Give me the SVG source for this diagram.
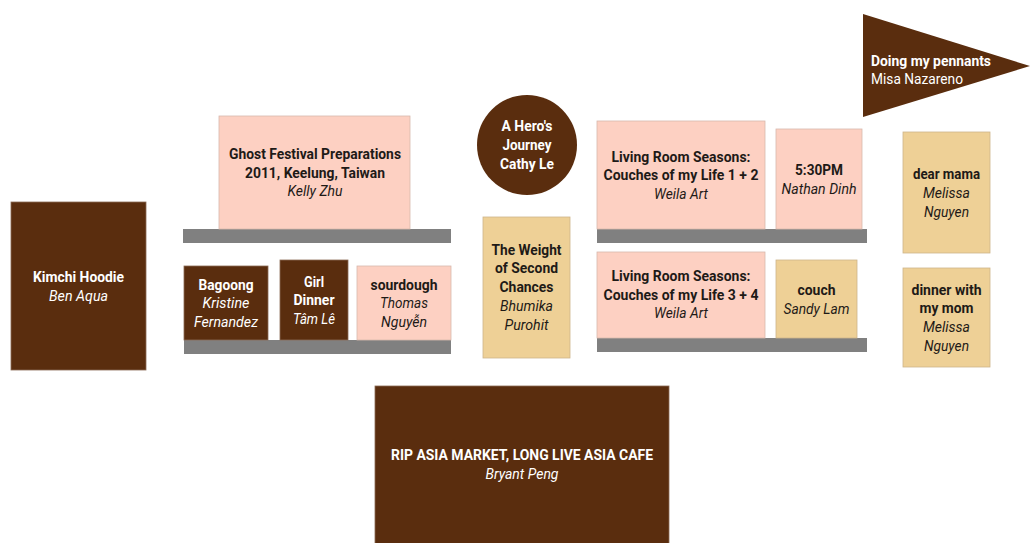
<svg xmlns="http://www.w3.org/2000/svg" width="1035" height="543" viewBox="0 0 1035 543">
<style>
  text { font-family: Roboto, "Liberation Sans", sans-serif; font-size: 15px; text-anchor: middle; }
  .b { font-weight: bold; }
  .i { font-style: italic; }
  .w { fill: #ffffff; }
  .d { fill: #1e1a17; }
  .brown { fill: #5a2d0e; stroke: #8a6a55; stroke-width: 0.8; }
  .pink { fill: #fdd0c2; stroke: #d8b8ad; stroke-width: 0.8; }
  .tan { fill: #eed096; stroke: #cdb48a; stroke-width: 0.8; }
  .shelf { fill: #808080; }
</style>
<rect width="1035" height="543" fill="#ffffff"/>

<g id="kimchi-hoodie">
  <rect class="brown" x="11" y="202" width="135" height="168"/>
  <text class="b w" x="78.5" y="282" textLength="91" lengthAdjust="spacingAndGlyphs">Kimchi Hoodie</text>
  <text class="i w" x="78.5" y="301" textLength="59" lengthAdjust="spacingAndGlyphs">Ben Aqua</text>
</g>

<g id="shelves">
  <rect class="shelf" x="183" y="229" width="268" height="14"/>
  <rect class="shelf" x="184" y="340" width="267" height="14"/>
  <rect class="shelf" x="597" y="229" width="270" height="14"/>
  <rect class="shelf" x="597" y="338" width="270" height="14"/>
</g>

<g id="ghost-festival">
  <rect class="pink" x="219" y="116" width="191" height="113"/>
  <text class="b d" x="315" y="159" textLength="172" lengthAdjust="spacingAndGlyphs">Ghost Festival Preparations</text>
  <text class="b d" x="315" y="178" textLength="140" lengthAdjust="spacingAndGlyphs">2011, Keelung, Taiwan</text>
  <text class="i d" x="315" y="196" textLength="55" lengthAdjust="spacingAndGlyphs">Kelly Zhu</text>
</g>

<g id="bagoong">
  <rect class="brown" x="184" y="266" width="84" height="74"/>
  <text class="b w" x="226" y="290" textLength="55" lengthAdjust="spacingAndGlyphs">Bagoong</text>
  <text class="i w" x="226" y="308" textLength="47" lengthAdjust="spacingAndGlyphs">Kristine</text>
  <text class="i w" x="226" y="327" textLength="64" lengthAdjust="spacingAndGlyphs">Fernandez</text>
</g>

<g id="girl-dinner">
  <rect class="brown" x="280" y="260" width="68" height="80"/>
  <text class="b w" x="314" y="287" textLength="20" lengthAdjust="spacingAndGlyphs">Girl</text>
  <text class="b w" x="314" y="305" textLength="41" lengthAdjust="spacingAndGlyphs">Dinner</text>
  <text class="i w" x="314" y="324" textLength="42" lengthAdjust="spacingAndGlyphs">Tâm Lê</text>
</g>

<g id="sourdough">
  <rect class="pink" x="357" y="266" width="94" height="74"/>
  <text class="b d" x="404" y="290" textLength="67" lengthAdjust="spacingAndGlyphs">sourdough</text>
  <text class="i d" x="404" y="308" textLength="48" lengthAdjust="spacingAndGlyphs">Thomas</text>
  <text class="i d" x="404" y="327" textLength="46" lengthAdjust="spacingAndGlyphs">Nguyễn</text>
</g>

<g id="heros-journey">
  <circle cx="527" cy="145" r="50" fill="#5a2d0e"/>
  <text class="b w" x="527" y="131" textLength="51" lengthAdjust="spacingAndGlyphs">A Hero's</text>
  <text class="b w" x="527" y="150" textLength="49" lengthAdjust="spacingAndGlyphs">Journey</text>
  <text class="b w" x="527" y="169" textLength="54" lengthAdjust="spacingAndGlyphs">Cathy Le</text>
</g>

<g id="weight-of-second-chances">
  <rect class="tan" x="483" y="217" width="87" height="141"/>
  <text class="b d" x="526.5" y="255" textLength="70" lengthAdjust="spacingAndGlyphs">The Weight</text>
  <text class="b d" x="526.5" y="273" textLength="63" lengthAdjust="spacingAndGlyphs">of Second</text>
  <text class="b d" x="526.5" y="292" textLength="54" lengthAdjust="spacingAndGlyphs">Chances</text>
  <text class="i d" x="526.5" y="311" textLength="53" lengthAdjust="spacingAndGlyphs">Bhumika</text>
  <text class="i d" x="526.5" y="330" textLength="44" lengthAdjust="spacingAndGlyphs">Purohit</text>
</g>

<g id="living-room-1-2">
  <rect class="pink" x="597" y="121" width="168" height="108"/>
  <text class="b d" x="681" y="162" textLength="139" lengthAdjust="spacingAndGlyphs">Living Room Seasons:</text>
  <text class="b d" x="681" y="180" textLength="155" lengthAdjust="spacingAndGlyphs">Couches of my Life 1 + 2</text>
  <text class="i d" x="681" y="199" textLength="54" lengthAdjust="spacingAndGlyphs">Weila Art</text>
</g>

<g id="five-thirty-pm">
  <rect class="pink" x="776" y="129" width="86" height="100"/>
  <text class="b d" x="819" y="175" textLength="48" lengthAdjust="spacingAndGlyphs">5:30PM</text>
  <text class="i d" x="819" y="194" textLength="75" lengthAdjust="spacingAndGlyphs">Nathan Dinh</text>
</g>

<g id="living-room-3-4">
  <rect class="pink" x="597" y="252" width="168" height="86"/>
  <text class="b d" x="681" y="281" textLength="139" lengthAdjust="spacingAndGlyphs">Living Room Seasons:</text>
  <text class="b d" x="681" y="300" textLength="155" lengthAdjust="spacingAndGlyphs">Couches of my Life 3 + 4</text>
  <text class="i d" x="681" y="318" textLength="54" lengthAdjust="spacingAndGlyphs">Weila Art</text>
</g>

<g id="couch">
  <rect class="tan" x="776" y="260" width="81" height="78"/>
  <text class="b d" x="816.5" y="295" textLength="38" lengthAdjust="spacingAndGlyphs">couch</text>
  <text class="i d" x="816.5" y="314" textLength="66" lengthAdjust="spacingAndGlyphs">Sandy Lam</text>
</g>

<g id="doing-my-pennants">
  <polygon points="863,14 863,117 1030,66" fill="#5a2d0e"/>
  <text class="b w" x="871" y="66" style="text-anchor:start" textLength="120" lengthAdjust="spacingAndGlyphs">Doing my pennants</text>
  <text class="w" x="871" y="84" style="text-anchor:start" textLength="92" lengthAdjust="spacingAndGlyphs">Misa Nazareno</text>
</g>

<g id="dear-mama">
  <rect class="tan" x="903" y="132" width="87" height="121"/>
  <text class="b d" x="946.5" y="179" textLength="67" lengthAdjust="spacingAndGlyphs">dear mama</text>
  <text class="i d" x="946.5" y="198" textLength="47" lengthAdjust="spacingAndGlyphs">Melissa</text>
  <text class="i d" x="946.5" y="217" textLength="45" lengthAdjust="spacingAndGlyphs">Nguyen</text>
</g>

<g id="dinner-with-my-mom">
  <rect class="tan" x="903" y="268" width="87" height="99"/>
  <text class="b d" x="946.5" y="295" textLength="70" lengthAdjust="spacingAndGlyphs">dinner with</text>
  <text class="b d" x="946.5" y="313" textLength="54" lengthAdjust="spacingAndGlyphs">my mom</text>
  <text class="i d" x="946.5" y="332" textLength="47" lengthAdjust="spacingAndGlyphs">Melissa</text>
  <text class="i d" x="946.5" y="351" textLength="45" lengthAdjust="spacingAndGlyphs">Nguyen</text>
</g>

<g id="rip-asia-market">
  <rect class="brown" x="375" y="386" width="294" height="160"/>
  <text class="b w" x="522" y="460" textLength="262" lengthAdjust="spacingAndGlyphs">RIP ASIA MARKET, LONG LIVE ASIA CAFE</text>
  <text class="i w" x="522" y="479" textLength="73" lengthAdjust="spacingAndGlyphs">Bryant Peng</text>
</g>

<g id="connectors"></g>
</svg>
